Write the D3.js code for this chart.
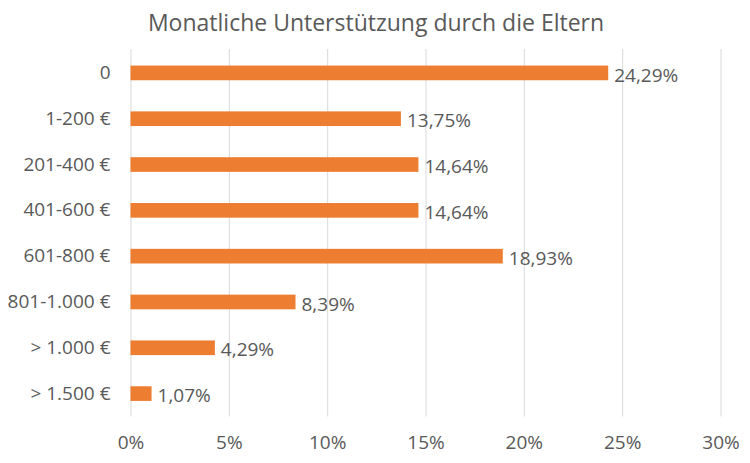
<!DOCTYPE html>
<html>
<head>
<meta charset="utf-8">
<script src="https://cdn.jsdelivr.net/npm/d3@7"></script>
<style>
  body { margin: 0; background: #fff; }
  text { font-family: "Open Sans", sans-serif; fill: #595959; }
</style>
</head>
<body>
<svg></svg>
<script>
var width = 750
var height = 463

// Daten
var categories = ["0", "1-200 €", "201-400 €", "401-600 €", "601-800 €", "801-1.000 €", "> 1.000 €", "> 1.500 €"]
var values = [24.29, 13.75, 14.64, 14.64, 18.93, 8.39, 4.29, 1.07]
var ticks = [0, 5, 10, 15, 20, 25, 30]
var title = "Monatliche Unterstützung durch die Eltern"

var margin = {top: 50, left: 130.5, right: 29.5, bottom: 46.5}
var plotW = width - margin.left - margin.right
var plotH = height - margin.top - margin.bottom

var fmt = d => d.toFixed(2).replace(".", ",") + "%"

var xScale = d3.scaleLinear()
  .domain([0, 30])
  .range([0, plotW])

var yScale = d3.scaleBand()
  .domain(categories)
  .range([0, plotH])
  .paddingInner(0.68)
  .paddingOuter(0.34)

var svg = d3.select("svg")
  .attr("width", width)
  .attr("height", height)

svg.append("text")
  .attr("x", 376)
  .attr("y", 31)
  .attr("text-anchor", "middle")
  .style("font-size", "23px")
  .text(title)

var g = svg.append("g")
  .attr("transform", `translate(${margin.left},${margin.top})`)

// Gitterlinien + Achse unten
var xAxis = d3.axisBottom(xScale)
  .tickValues(ticks)
  .tickSize(plotH + 1)
  .tickPadding(19)
  .tickFormat(d => d + "%")

var ax = g.append("g")
  .attr("transform", "translate(0,-1)")
  .call(xAxis)
ax.select(".domain").remove()
ax.selectAll("line").attr("stroke", "#d9d9d9")
ax.selectAll("text").style("font-size", "19px").attr("fill", "#595959")

// Kategorien
var yAxis = d3.axisLeft(yScale).tickSize(0).tickPadding(20)
var ay = g.append("g").call(yAxis)
ay.select(".domain").remove()
ay.selectAll("text").style("font-size", "19px").attr("fill", "#595959")

// Balken
g.selectAll("rect.bar")
  .data(values)
  .enter()
  .append("rect")
  .attr("class", "bar")
  .attr("x", 0)
  .attr("y", (d, i) => yScale(categories[i]))
  .attr("width", d => xScale(d))
  .attr("height", yScale.bandwidth())
  .attr("fill", "#ED7D31")

g.selectAll("text.label")
  .data(values)
  .enter()
  .append("text")
  .attr("class", "label")
  .attr("x", d => xScale(d) + 6)
  .attr("y", (d, i) => yScale(categories[i]) + yScale.bandwidth() / 2 + 2)
  .attr("dy", "0.35em")
  .style("font-size", "19px")
  .text(d => fmt(d))
</script>
</body>
</html>
